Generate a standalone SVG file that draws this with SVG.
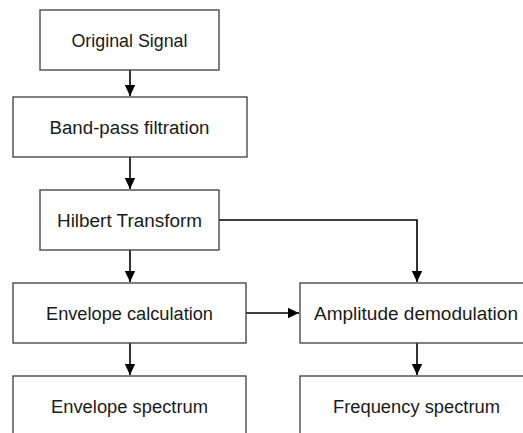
<svg xmlns="http://www.w3.org/2000/svg" width="523" height="433" viewBox="0 0 523 433">
  <style>
    .box { fill: #ffffff; stroke: #3c3c3c; stroke-width: 1.3; }
    .lbl { font-family: "Liberation Sans", Arial, sans-serif; font-size: 18px; fill: #1a1a1a; text-anchor: middle; }
    .wire { fill: none; stroke: #000000; stroke-width: 1.6; }
  </style>
  <defs>
    <marker id="arrow" markerUnits="userSpaceOnUse" markerWidth="12" markerHeight="12" viewBox="0 0 12 12" refX="11" refY="6" orient="auto">
      <path d="M0,0.8 L11,6 L0,11.2 Z" fill="#000000"/>
    </marker>
  </defs>
  <rect width="523" height="433" fill="#ffffff"/>

  <g id="connectors">
    <path class="wire" d="M130,70 V96" marker-end="url(#arrow)"/>
    <path class="wire" d="M130,157 V189" marker-end="url(#arrow)"/>
    <path class="wire" d="M130,250 V282" marker-end="url(#arrow)"/>
    <path class="wire" d="M130,343 V375" marker-end="url(#arrow)"/>
    <path class="wire" d="M219,220 H417 V282" marker-end="url(#arrow)"/>
    <path class="wire" d="M246,313 H299" marker-end="url(#arrow)"/>
    <path class="wire" d="M417,343 V375" marker-end="url(#arrow)"/>
  </g>

  <g id="original-signal">
    <rect class="box" x="40" y="10" width="179" height="60"/>
    <text class="lbl" x="129.5" y="46.5" textLength="116" lengthAdjust="spacingAndGlyphs">Original Signal</text>
  </g>
  <g id="band-pass">
    <rect class="box" x="13" y="97" width="234" height="60"/>
    <text class="lbl" x="129.5" y="133.5" textLength="160" lengthAdjust="spacingAndGlyphs">Band-pass filtration</text>
  </g>
  <g id="hilbert">
    <rect class="box" x="40" y="190" width="179" height="60"/>
    <text class="lbl" x="129.5" y="226.5" textLength="145" lengthAdjust="spacingAndGlyphs">Hilbert Transform</text>
  </g>
  <g id="envelope-calc">
    <rect class="box" x="13" y="283" width="233" height="60"/>
    <text class="lbl" x="129.5" y="319.5" textLength="167" lengthAdjust="spacingAndGlyphs">Envelope calculation</text>
  </g>
  <g id="amplitude-demod">
    <rect class="box" x="300" y="283" width="234" height="60"/>
    <text class="lbl" x="416" y="319.5" textLength="204" lengthAdjust="spacingAndGlyphs">Amplitude demodulation</text>
  </g>
  <g id="envelope-spectrum">
    <rect class="box" x="13" y="376" width="233" height="60"/>
    <text class="lbl" x="129.5" y="412.5" textLength="157" lengthAdjust="spacingAndGlyphs">Envelope spectrum</text>
  </g>
  <g id="frequency-spectrum">
    <rect class="box" x="300" y="376" width="234" height="60"/>
    <text class="lbl" x="416.5" y="412.5" textLength="167" lengthAdjust="spacingAndGlyphs">Frequency spectrum</text>
  </g>
</svg>
